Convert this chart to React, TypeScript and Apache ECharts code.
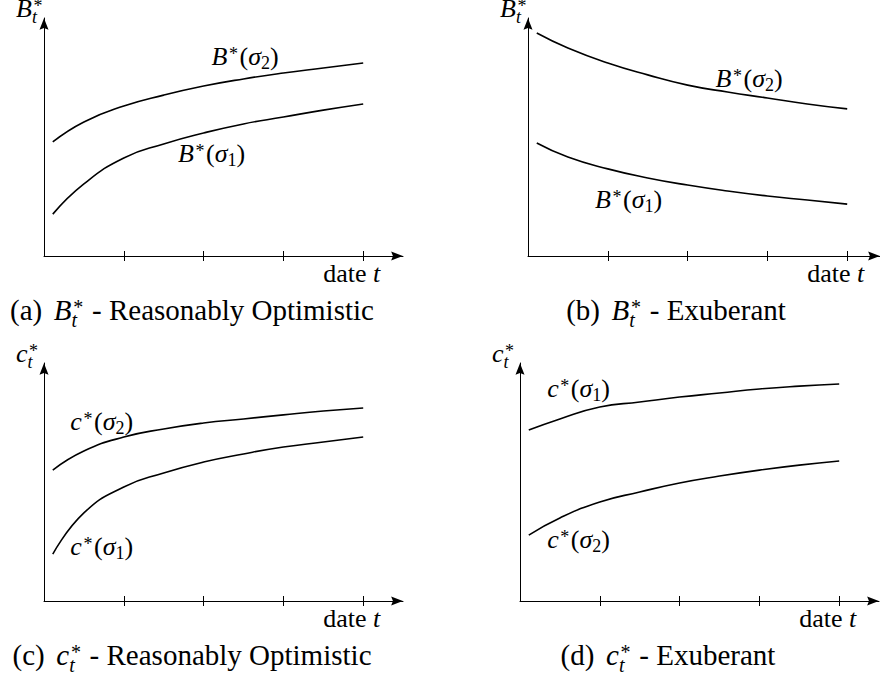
import React, { useEffect, useRef } from 'react';
import * as echarts from 'echarts';

// ---------- data ----------
const tickValues = [1, 2, 3, 4];
const tValues = [0.11, 0.5, 1, 1.5, 2, 2.5, 3, 3.5, 4];

// (a) B*_t - Reasonably Optimistic
const bOptSigma2 = [4.79, 5.63, 6.3, 6.76, 7.14, 7.44, 7.69, 7.9, 8.11];
const bOptSigma1 = [1.76, 3.03, 4.12, 4.71, 5.17, 5.55, 5.84, 6.13, 6.39];
// (b) B*_t - Exuberant
const bExuSigma2 = [9.37, 8.74, 8.11, 7.61, 7.18, 6.89, 6.64, 6.39, 6.18];
const bExuSigma1 = [4.75, 4.16, 3.66, 3.28, 2.98, 2.73, 2.52, 2.35, 2.18];
// (c) c*_t - Reasonably Optimistic
const cOptSigma2 = [5.5, 6.3, 6.89, 7.23, 7.48, 7.65, 7.82, 7.98, 8.11];
const cOptSigma1 = [1.97, 3.7, 4.79, 5.38, 5.84, 6.18, 6.47, 6.68, 6.89];
// (d) c*_t - Exuberant
const cExuSigma1 = [7.18, 7.65, 8.15, 8.36, 8.57, 8.74, 8.91, 9.03, 9.12];
const cExuSigma2 = [2.77, 3.49, 4.16, 4.58, 4.96, 5.25, 5.5, 5.71, 5.88];

const captionTags = ['(a)', '(b)', '(c)', '(d)'];
const panelSymbols = ['B', 'B', 'c', 'c'];
const captionTitles = ['Reasonably Optimistic', 'Exuberant', 'Reasonably Optimistic', 'Exuberant'];
const xAxisWord = 'date';
const xAxisVar = 't';
const sigmaSymbol = 'σ';

// ---------- layout / style ----------
const FONT_FAMILY = 'Liberation Serif';
const LABEL_SIZE = 26;
const CAPTION_SIZE = 29;
const Y_MAX = 10;
const PX_PER_UNIT = 79.8;
const ARROW = 'path://M5,0L10,13L5,11L0,13Z';

const GRIDS = [
  { left: 44, top: 18, width: 359, height: 238 },
  { left: 528, top: 18, width: 352, height: 238 },
  { left: 44, top: 363, width: 359, height: 238 },
  { left: 520, top: 363, width: 359, height: 238 },
];

type CurveDef = { values: number[]; sigma: string; label: [number, number] };
const PANELS: { curves: CurveDef[] }[] = [
  { curves: [
    { values: bOptSigma2, sigma: '2', label: [2.1, 8.03] },
    { values: bOptSigma1, sigma: '1', label: [1.68, 3.95] },
  ] },
  { curves: [
    { values: bExuSigma2, sigma: '2', label: [2.35, 7.1] },
    { values: bExuSigma1, sigma: '1', label: [0.84, 2.02] },
  ] },
  { curves: [
    { values: cOptSigma2, sigma: '2', label: [0.33, 7.18] },
    { values: cOptSigma1, sigma: '1', label: [0.33, 1.93] },
  ] },
  { curves: [
    { values: cExuSigma1, sigma: '1', label: [0.34, 8.57] },
    { values: cExuSigma2, sigma: '2', label: [0.34, 2.23] },
  ] },
];

type Piece = { t: string; it?: boolean; s?: number; dy?: number; dx?: number; gap?: number; stack?: boolean };

let measureCtx: CanvasRenderingContext2D | null = null;
function textWidth(t: string, font: string): number {
  if (!measureCtx) measureCtx = document.createElement('canvas').getContext('2d');
  if (!measureCtx) return t.length * 10;
  measureCtx.font = font;
  return measureCtx.measureText(t).width;
}

function mathText(pieces: Piece[], anchorX: number, baseline: number, size: number, align: 'left' | 'center' | 'right') {
  const placed: { p: Piece; fs: number; x: number }[] = [];
  let cursor = 0;
  let lastStart = 0;
  for (const p of pieces) {
    const fs = Math.round(size * (p.s ?? 1));
    const font = `${p.it ? 'italic ' : ''}${fs}px ${FONT_FAMILY}`;
    const w = textWidth(p.t, font);
    let start: number;
    if (p.stack) start = lastStart;
    else {
      start = cursor + (p.gap ?? 0) * size;
      lastStart = start;
    }
    const x = start + (p.dx ?? 0) * size;
    placed.push({ p, fs, x });
    cursor = Math.max(cursor, x + w);
  }
  const total = cursor;
  const left0 = align === 'left' ? anchorX : align === 'center' ? anchorX - total / 2 : anchorX - total;
  return placed.map(({ p, fs, x }) => ({
    type: 'text',
    silent: true,
    x: left0 + x,
    y: baseline - (p.dy ?? 0) * size - 0.34 * fs,
    style: {
      text: p.t,
      font: `${p.it ? 'italic ' : ''}${fs}px ${FONT_FAMILY}`,
      fill: '#000',
      align: 'left',
      verticalAlign: 'middle',
      textAlign: 'left',
      textVerticalAlign: 'middle',
    },
  }));
}

const STAR: Piece = { t: '*', s: 0.7, dy: 0.2, dx: 0.06 };
function symbolStarSub(sym: string, gap = 0): Piece[] {
  return [
    { t: sym, it: true, gap },
    { ...STAR },
    { t: xAxisVar, it: true, s: 0.7, dy: -0.24, stack: true },
  ];
}
function curveLabel(sym: string, sigma: string): Piece[] {
  return [
    { t: sym, it: true },
    { ...STAR },
    { t: '(', gap: 0.06 },
    { t: sigmaSymbol, it: true },
    { t: sigma, s: 0.7, dy: -0.15 },
    { t: ')' },
  ];
}

export default function App() {
  const ref = useRef<HTMLDivElement>(null);
  useEffect(() => {
    if (!ref.current) return;
    const chart = echarts.init(ref.current, undefined, { renderer: 'svg' });
    const axisLineStyle = { color: '#000', width: 1 };
    const xAxes: any[] = [];
    const yAxes: any[] = [];
    const series: any[] = [];
    GRIDS.forEach((grid, g) => {
      const xMax = grid.width / PX_PER_UNIT;
      xAxes.push({
        gridIndex: g, type: 'value', min: 0, max: xMax, interval: 1,
        axisLine: { show: true, onZero: false, symbol: ['none', ARROW], symbolSize: [9, 12], symbolOffset: [0, -6], lineStyle: axisLineStyle },
        axisTick: { show: true, inside: false, length: 5, customValues: tickValues, lineStyle: axisLineStyle },
        axisLabel: { show: false },
        splitLine: { show: false },
      });
      xAxes.push({
        gridIndex: g, type: 'value', min: 0, max: xMax, interval: 1, position: 'bottom',
        axisLine: { show: false, onZero: false },
        axisTick: { show: true, inside: true, length: 5, customValues: tickValues, lineStyle: axisLineStyle },
        axisLabel: { show: false },
        splitLine: { show: false },
      });
      yAxes.push({
        gridIndex: g, type: 'value', min: 0, max: Y_MAX,
        axisLine: { show: true, onZero: false, symbol: ['none', ARROW], symbolSize: [9, 12], symbolOffset: [0, -6], lineStyle: axisLineStyle },
        axisTick: { show: false },
        axisLabel: { show: false },
        splitLine: { show: false },
      });
      PANELS[g].curves.forEach((c) => {
        series.push({
          type: 'line',
          xAxisIndex: 2 * g,
          yAxisIndex: g,
          data: tValues.map((t, i) => [t, c.values[i]]),
          showSymbol: false,
          smooth: 0.5,
          lineStyle: { color: '#000', width: 1.6 },
          silent: true,
        });
      });
    });

    chart.setOption({
      animation: false,
      backgroundColor: '#fff',
      grid: GRIDS.map((g) => ({ ...g, containLabel: false })),
      xAxis: xAxes,
      yAxis: yAxes,
      series,
    });

    const elements: any[] = [];
    let sIdx = 0;
    GRIDS.forEach((_, g) => {
      const firstSeries = sIdx;
      const toPx = (x: number, y: number) => chart.convertToPixel({ seriesIndex: firstSeries }, [x, y]) as number[];
      const origin = toPx(0, 0);
      const top = toPx(0, Y_MAX);
      const lastTick = toPx(tickValues[tickValues.length - 1], 0);
      const sym = panelSymbols[g];
      elements.push(...mathText(symbolStarSub(sym), origin[0] - 28, top[1] - 1, LABEL_SIZE, 'left'));
      elements.push(...mathText([{ t: xAxisWord + ' ' }, { t: xAxisVar, it: true }], lastTick[0] + 17, origin[1] + 26, LABEL_SIZE, 'right'));
      PANELS[g].curves.forEach((c) => {
        const p = toPx(c.label[0], c.label[1]);
        elements.push(...mathText(curveLabel(sym, c.sigma), p[0], p[1], LABEL_SIZE, 'left'));
        sIdx++;
      });
      const caption: Piece[] = [
        { t: captionTags[g] },
        ...symbolStarSub(sym, 0.4),
        { t: ' - ' + captionTitles[g], gap: 0.05 },
      ];
      elements.push(...mathText(caption, origin[0] + 148, origin[1] + 64, CAPTION_SIZE, 'center'));
    });
    chart.setOption({ graphic: { elements } });

    return () => chart.dispose();
  }, []);
  return <div ref={ref} style={{ position: 'fixed', left: 0, top: 0, width: 880, height: 681 }} />;
}
